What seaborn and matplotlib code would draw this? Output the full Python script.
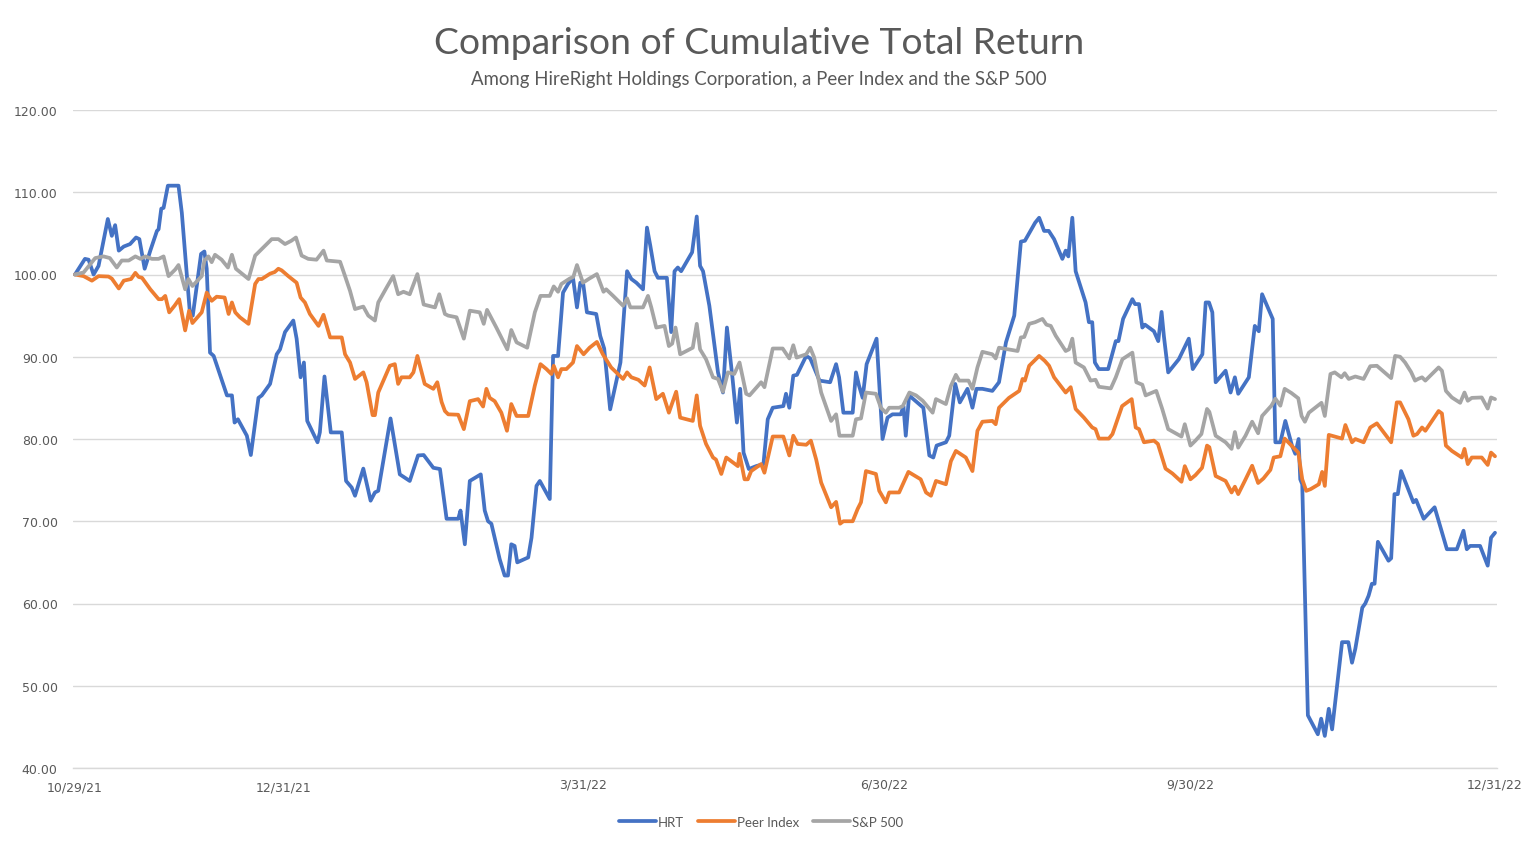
import pandas as pd
import seaborn as sns
import matplotlib.dates as mdates

from matplotlib import pyplot as plt
from matplotlib.ticker import FormatStrFormatter, FixedLocator

start = pd.Timestamp("2021-10-29")

# days after 10/29/21
hrt_days = [0, 3.0, 4.1, 5.6, 7.1, 9.9, 11.1, 12.1, 13.2, 14.7,
            16.6, 18.4, 19.4, 21.0, 22.7, 24.7, 25.2, 26.0, 26.7, 28.0,
            31.2, 32.2, 34.7, 35.5, 38.0, 39.0, 39.7, 40.7, 41.8, 45.8,
            47.3, 48.1, 49.1, 51.8, 53.0, 55.3, 56.3, 58.8, 60.8, 61.8,
            63.3, 65.8, 66.8, 68.0, 69.0, 70.0, 73.1, 73.8, 75.2, 77.1,
            80.4, 81.7, 83.4, 84.4, 86.9, 89.1, 90.4, 91.4, 95.1, 97.9,
            100.9, 103.4, 105.1, 108.0, 110.0, 112.0, 115.5, 116.2, 117.5, 119.0,
            122.3, 123.5, 124.5, 125.5, 128.0, 129.5, 130.5, 131.5, 132.5, 133.3,
            136.6, 137.6, 139.1, 140.1, 143.1, 144.1, 145.6, 147.1, 148.6, 150.1,
            151.3, 152.3, 153.2, 154.3, 157.1, 158.3, 159.5, 161.3, 164.4, 166.4,
            167.7, 169.2, 171.2, 172.4, 173.4, 174.7, 175.7, 178.4, 179.7, 180.7,
            181.7, 182.7, 186.0, 187.4, 188.4, 189.3, 191.2, 193.8, 195.3, 196.5,
            198.1, 199.5, 200.5, 201.5, 203.1, 205.3, 207.5, 208.8, 210.3, 213.5,
            214.3, 215.3, 216.5, 217.6, 220.4, 221.6, 224.4, 227.6, 229.4, 230.3,
            231.6, 234.4, 235.4, 236.3, 237.4, 238.6, 241.6, 243.4, 244.9, 246.4,
            248.9, 249.7, 250.4, 251.4, 255.7, 257.5, 258.7, 259.7, 262.5, 263.5,
            265.3, 266.7, 269.0, 270.5, 271.7, 273.5, 276.5, 278.5, 280.6, 283.1,
            285.1, 286.3, 289.4, 290.6, 292.1, 293.5, 295.1, 297.6, 298.6, 299.4,
            300.6, 301.6, 304.6, 305.6, 306.6, 307.4, 308.6, 311.4, 313.7, 314.5,
            315.9, 318.7, 319.5, 320.7, 321.7, 322.5, 325.2, 326.5, 327.5, 328.2,
            329.5, 332.7, 335.7, 336.9, 339.8, 340.8, 341.8, 342.8, 343.8, 346.8,
            348.3, 349.6, 350.6, 353.8, 355.6, 356.8, 357.8, 361.0, 361.8, 363.3,
            364.8, 366.8, 367.8, 368.8, 369.3, 369.9, 371.6, 374.6, 375.6, 376.7,
            377.9, 378.9, 381.9, 383.8, 384.9, 385.9, 388.0, 388.9, 389.9, 390.9,
            391.7, 392.7, 395.9, 396.7, 397.7, 398.7, 399.7, 403.4, 404.2, 406.5,
            409.8, 413.5, 416.5, 418.5, 419.5, 420.5, 423.5, 425.8, 426.8, 428.0]
hrt_values = [100, 101.9, 101.8, 100.0, 101.05, 106.75, 104.7, 106.0, 102.9, 103.4,
              103.7, 104.5, 104.3, 100.7, 102.9, 105.3, 105.5, 108.0, 108.1, 110.8,
              110.8, 107.5, 95.0, 95.0, 102.5, 102.8, 100.7, 90.5, 90.1, 85.3,
              85.3, 82.0, 82.4, 80.4, 78.05, 85.0, 85.3, 86.7, 90.3, 90.9,
              93.0, 94.4, 92.2, 87.5, 89.3, 82.2, 79.6, 80.8, 87.6, 80.8,
              80.8, 74.9, 74.1, 73.1, 76.4, 72.5, 73.5, 73.7, 82.5, 75.7,
              74.9, 78.0, 78.05, 76.5, 76.35, 70.3, 70.3, 71.3, 67.2, 74.9,
              75.7, 71.3, 70.0, 69.7, 65.4, 63.4, 63.4, 67.2, 67.0, 65.0,
              65.6, 68.0, 74.3, 74.9, 72.7, 90.1, 90.1, 97.8, 98.85, 99.6,
              96.0, 99.0, 98.8, 95.4, 95.2, 92.55, 91.0, 83.6, 89.3, 100.4,
              99.45, 99.0, 98.2, 105.7, 103.5, 100.4, 99.6, 99.6, 93.0, 100.4,
              100.85, 100.4, 102.7, 107.05, 101.05, 100.4, 96.2, 88.1, 85.65, 93.55,
              87.7, 82.0, 86.1, 78.35, 76.35, 76.7, 76.95, 82.4, 83.8, 84.0,
              85.5, 83.8, 87.7, 87.8, 90.1, 89.8, 87.1, 86.9, 89.1, 87.5,
              83.2, 83.2, 88.1, 86.5, 85.0, 89.1, 92.2, 80.0, 82.6, 83.0,
              83.0, 84.0, 80.4, 85.3, 83.8, 78.0, 77.75, 79.2, 79.6, 80.4,
              86.7, 84.45, 86.1, 83.8, 86.1, 86.1, 85.85, 86.9, 91.75, 95.0,
              104.0, 104.1, 106.3, 106.9, 105.3, 105.3, 104.3, 101.9, 102.9, 102.2,
              106.9, 100.4, 96.6, 94.2, 94.2, 89.3, 88.5, 88.5, 91.9, 91.9,
              94.6, 97.0, 96.4, 96.4, 93.55, 93.9, 93.1, 91.9, 95.45, 92.5,
              88.1, 89.7, 92.2, 88.5, 90.3, 96.6, 96.6, 95.4, 86.9, 88.3,
              85.65, 87.5, 85.5, 87.5, 93.75, 93.1, 97.6, 94.6, 79.6, 79.6,
              82.2, 79.2, 78.2, 80.0, 75.1, 74.5, 46.4, 44.1, 46.0, 43.9,
              47.2, 44.7, 55.3, 55.3, 52.8, 54.5, 59.5, 60.0, 60.95, 62.4,
              62.4, 67.5, 65.2, 65.5, 73.3, 73.3, 76.1, 72.3, 72.6, 70.3,
              71.7, 66.6, 66.6, 68.85, 66.6, 67.0, 67.0, 64.6, 68.0, 68.6]

peer_days = [0, 2.6, 5.1, 7.1, 10.1, 11.1, 13.2, 14.7, 16.9, 18.2,
             19.2, 20.2, 22.7, 25.2, 26.2, 27.2, 28.4, 30.0, 31.4, 33.2,
             34.4, 35.4, 38.2, 39.7, 41.2, 42.7, 45.1, 46.3, 47.3, 48.3,
             49.7, 52.3, 54.3, 55.3, 56.3, 58.8, 60.2, 61.3, 62.3, 64.3,
             66.8, 68.0, 69.3, 70.8, 73.4, 74.9, 76.9, 80.4, 81.4, 82.9,
             84.4, 86.9, 87.9, 89.7, 90.4, 91.4, 94.9, 96.4, 97.4, 98.4,
             100.9, 102.0, 103.2, 105.4, 108.0, 109.2, 110.5, 111.5, 112.5, 115.5,
             117.2, 119.0, 121.5, 123.0, 124.0, 125.0, 126.5, 128.5, 130.2, 131.5,
             133.1, 136.6, 138.6, 140.3, 142.1, 143.6, 144.3, 145.6, 146.6, 148.1,
             150.1, 151.3, 153.3, 155.1, 157.3, 159.1, 161.6, 165.2, 166.4, 167.7,
             169.8, 171.7, 173.2, 175.2, 177.2, 179.0, 181.2, 182.4, 186.2, 187.4,
             188.4, 190.2, 192.3, 193.2, 194.8, 196.3, 199.8, 200.3, 201.8, 202.8,
             203.8, 206.8, 207.8, 210.3, 213.5, 215.3, 216.5, 217.8, 220.4, 221.8,
             223.4, 224.9, 227.9, 229.4, 230.6, 231.6, 234.4, 235.9, 236.9, 238.4,
             241.4, 242.4, 244.4, 245.4, 248.4, 251.2, 254.9, 256.5, 258.0, 259.5,
             262.5, 264.0, 265.5, 268.5, 270.5, 272.0, 273.5, 276.5, 277.5, 278.5,
             281.5, 284.6, 285.6, 286.3, 287.6, 288.1, 290.6, 292.3, 293.6, 295.1,
             298.6, 300.1, 301.6, 304.1, 306.6, 307.6, 308.6, 311.6, 312.7, 315.6,
             318.5, 319.7, 320.7, 322.2, 325.2, 326.4, 328.7, 330.8, 333.5, 334.5,
             336.2, 337.7, 339.7, 341.2, 341.9, 343.8, 346.8, 348.6, 349.6, 350.6,
             352.7, 354.8, 356.6, 358.2, 360.3, 361.3, 363.3, 364.6, 365.7, 368.7,
             369.9, 371.1, 372.4, 374.9, 375.9, 376.7, 377.9, 381.9, 382.9, 384.9,
             385.9, 388.4, 390.4, 392.4, 396.7, 398.4, 399.4, 401.9, 403.4, 404.5,
             406.0, 407.0, 411.0, 412.0, 413.2, 415.0, 418.0, 418.8, 419.8, 421.0,
             424.0, 425.8, 426.8, 428.0]
peer_values = [100, 99.8, 99.25, 99.8, 99.75, 99.5, 98.3, 99.25, 99.45, 100.2,
               99.7, 99.6, 98.2, 97.0, 97.0, 97.4, 95.4, 96.2, 97.0, 93.2,
               95.6, 94.1, 95.4, 97.8, 96.8, 97.3, 97.2, 95.2, 96.6, 95.4,
               94.8, 94.0, 98.85, 99.45, 99.45, 100.1, 100.3, 100.7, 100.5, 99.8,
               99.0, 97.2, 96.6, 95.2, 93.75, 95.1, 92.35, 92.35, 90.3, 89.3,
               87.3, 88.1, 86.9, 82.9, 82.9, 85.65, 88.9, 89.1, 86.7, 87.5,
               87.5, 88.1, 90.1, 86.7, 86.1, 86.9, 84.5, 83.4, 83.0, 82.95,
               81.2, 84.6, 84.85, 83.95, 86.1, 85.0, 84.6, 83.2, 81.0, 84.25,
               82.8, 82.8, 86.5, 89.1, 88.5, 87.9, 88.9, 87.5, 88.5, 88.5,
               89.3, 91.3, 90.3, 91.1, 91.8, 90.3, 88.7, 87.3, 88.1, 87.5,
               87.2, 86.5, 88.7, 84.85, 85.5, 83.2, 85.75, 82.6, 82.2, 85.3,
               81.6, 79.4, 77.75, 77.5, 75.75, 77.75, 76.7, 78.2, 75.1, 75.1,
               76.1, 76.95, 75.9, 80.3, 80.3, 78.0, 80.4, 79.4, 79.3, 79.8,
               77.5, 74.7, 71.7, 72.35, 69.7, 70.0, 70.0, 71.5, 72.3, 76.1,
               75.75, 73.7, 72.3, 73.5, 73.5, 76.0, 75.1, 73.5, 73.1, 74.9,
               74.5, 77.3, 78.55, 77.75, 76.1, 81.0, 82.1, 82.2, 81.8, 83.8,
               85.0, 85.85, 87.3, 87.1, 88.9, 89.1, 90.1, 89.5, 88.9, 87.5,
               85.65, 86.3, 83.65, 82.6, 81.4, 81.2, 80.05, 80.05, 80.6, 84.0,
               84.85, 81.4, 81.2, 79.6, 79.8, 79.4, 76.4, 75.8, 74.8, 76.7,
               75.1, 75.6, 76.5, 79.2, 79.0, 75.5, 74.9, 73.5, 74.2, 73.3,
               75.0, 76.75, 74.65, 75.2, 76.25, 77.75, 77.9, 80.05, 79.6, 78.35,
               75.1, 73.7, 73.9, 74.5, 76.0, 74.3, 80.5, 80.05, 81.7, 79.6,
               80.0, 79.6, 81.4, 81.9, 79.6, 84.45, 84.45, 82.4, 80.4, 80.6,
               81.4, 81.0, 83.4, 83.1, 79.2, 78.55, 77.75, 78.8, 76.95, 77.75,
               77.75, 76.85, 78.35, 77.9]

sp_days = [0, 2.6, 4.1, 6.1, 8.6, 10.5, 12.6, 14.1, 16.2, 18.2,
           19.7, 21.2, 23.2, 25.2, 26.7, 28.2, 30.2, 31.2, 33.2, 34.2,
           35.4, 38.2, 39.0, 40.2, 41.2, 42.2, 44.2, 46.1, 47.3, 48.5,
           50.3, 52.3, 54.3, 55.8, 57.3, 59.3, 61.3, 63.3, 65.2, 66.6,
           68.3, 70.3, 72.8, 74.9, 75.9, 79.9, 81.4, 82.9, 84.4, 86.9,
           88.4, 90.4, 91.4, 93.9, 95.9, 97.4, 99.0, 100.9, 103.2, 105.1,
           108.5, 109.8, 111.5, 112.5, 115.0, 117.2, 119.0, 122.0, 123.2, 124.2,
           127.0, 130.3, 131.5, 133.1, 136.3, 138.6, 140.3, 143.1, 144.3, 145.6,
           146.6, 149.1, 150.2, 151.3, 153.1, 155.0, 157.3, 159.3, 160.1, 162.2,
           165.2, 166.4, 167.4, 171.2, 172.7, 173.7, 175.2, 177.7, 179.0, 180.0,
           181.0, 182.4, 186.2, 187.4, 188.4, 190.2, 192.3, 193.8, 195.3, 196.8,
           198.7, 200.3, 202.3, 203.3, 206.8, 207.8, 210.3, 213.3, 215.3, 216.5,
           217.5, 220.4, 221.6, 222.8, 224.9, 227.9, 229.4, 230.4, 234.4, 235.4,
           236.9, 238.4, 241.4, 242.9, 244.4, 245.4, 248.4, 249.5, 251.5, 253.5,
           255.5, 258.5, 259.5, 262.5, 264.0, 265.5, 266.5, 269.3, 270.5, 272.0,
           273.5, 276.5, 277.5, 278.5, 284.1, 285.1, 286.1, 287.6, 289.4, 291.6,
           292.8, 294.1, 295.6, 298.6, 299.6, 300.6, 301.6, 304.1, 306.1, 307.6,
           308.6, 312.2, 313.7, 315.7, 318.7, 319.9, 321.7, 322.7, 325.9, 327.7,
           329.5, 333.5, 334.5, 336.2, 337.7, 339.5, 341.2, 341.9, 343.8, 346.8,
           348.6, 349.6, 350.6, 352.8, 354.8, 356.6, 357.8, 360.6, 361.8, 363.3,
           364.6, 366.6, 368.7, 369.7, 370.7, 371.9, 375.7, 376.7, 378.4, 379.7,
           381.7, 382.7, 383.9, 385.9, 388.4, 390.4, 392.4, 396.7, 397.9, 399.4,
           400.9, 402.7, 403.9, 404.8, 406.0, 407.0, 411.0, 412.0, 413.2, 415.0,
           417.5, 418.8, 419.8, 421.0, 424.0, 425.8, 426.8, 428.0]
sp_values = [100, 100.25, 101.0, 102.0, 102.2, 102.0, 100.85, 101.7, 101.7, 102.2,
             101.9, 102.2, 101.9, 101.9, 102.2, 99.8, 100.6, 101.15, 98.2, 99.45,
             98.6, 99.8, 101.7, 102.2, 101.5, 102.4, 101.8, 100.85, 102.4, 100.7,
             100.1, 99.45, 102.3, 102.9, 103.5, 104.3, 104.3, 103.7, 104.1, 104.5,
             102.3, 101.9, 101.8, 102.9, 101.7, 101.55, 99.8, 98.0, 95.8, 96.1,
             95.0, 94.4, 96.6, 98.4, 99.8, 97.6, 97.9, 97.6, 100.05, 96.35,
             96.0, 97.6, 95.2, 95.0, 94.8, 92.2, 95.6, 95.4, 94.0, 95.7,
             93.55, 90.9, 93.25, 91.75, 91.1, 95.4, 97.4, 97.4, 98.55, 97.9,
             98.85, 99.5, 99.7, 101.15, 99.0, 99.5, 100.05, 97.9, 98.2, 97.4,
             96.2, 97.1, 96.0, 96.0, 97.4, 96.0, 93.55, 93.75, 91.3, 91.6,
             93.55, 90.3, 91.1, 94.0, 90.9, 89.7, 87.5, 87.3, 85.75, 88.1,
             87.9, 89.3, 85.5, 85.3, 86.9, 86.3, 91.0, 91.0, 89.8, 91.4,
             89.9, 90.3, 91.1, 89.9, 85.65, 82.2, 83.0, 80.4, 80.4, 82.4,
             82.5, 85.65, 85.5, 83.8, 83.2, 83.8, 83.8, 84.0, 85.65, 85.3,
             84.65, 83.2, 84.85, 84.25, 86.45, 87.8, 87.1, 87.1, 86.1, 88.7,
             90.6, 90.3, 89.8, 91.1, 90.7, 92.35, 92.4, 94.0, 94.2, 94.6,
             93.9, 93.75, 92.55, 90.7, 90.9, 92.2, 89.3, 88.7, 87.1, 87.2,
             86.35, 86.15, 87.5, 89.7, 90.5, 86.9, 86.6, 85.3, 85.85, 83.65,
             81.2, 80.3, 81.8, 79.2, 79.8, 80.6, 83.65, 83.3, 80.4, 79.6,
             78.8, 80.85, 78.95, 80.4, 82.1, 80.7, 82.8, 84.05, 84.9, 84.05,
             86.1, 85.6, 84.95, 82.8, 82.1, 83.2, 84.4, 82.8, 87.9, 88.1,
             87.5, 88.0, 87.3, 87.6, 87.3, 88.85, 88.9, 87.4, 90.1, 90.0,
             89.3, 88.15, 87.1, 87.3, 87.5, 87.1, 88.7, 88.3, 85.85, 85.05,
             84.4, 85.65, 84.65, 85.0, 85.05, 83.7, 85.05, 84.85]

tick_dates = ["2021-10-29", "2021-12-31", "2022-03-31", "2022-06-30", "2022-09-30", "2022-12-31"]
y_ticks = [40, 50, 60, 70, 80, 90, 100, 110, 120]

colors = {"HRT": "#4472C4", "Peer Index": "#ED7D31", "S&P 500": "#A5A5A5"}
text_color = "#595959"
grid_color = "#D9D9D9"

frames = []
for name, days, values in [("HRT", hrt_days, hrt_values),
                           ("Peer Index", peer_days, peer_values),
                           ("S&P 500", sp_days, sp_values)]:
    frames.append(pd.DataFrame({"series": name,
                                "date": start + pd.to_timedelta(days, unit="D"),
                                "value": values}))
df = pd.concat(frames, ignore_index=True)

sns.set_theme(style="white")
plt.rcParams["font.family"] = ["DejaVu Sans"]

W, H = 1536, 854
fig = plt.figure(figsize=(W / 100, H / 100), dpi=100)
ax = fig.add_axes([73 / W, 1 - 769 / H, (1497 - 73) / W, (769 - 111) / H])

sns.lineplot(data=df, x="date", y="value", hue="series", palette=colors,
             estimator=None, linewidth=2.7, solid_joinstyle="round",
             solid_capstyle="round", ax=ax)

ax.set_xlim(start - pd.Timedelta(days=0.6), start + pd.Timedelta(days=428.6))
ax.set_ylim(40, 120)
ax.set_yticks(y_ticks)
ax.yaxis.set_major_formatter(FormatStrFormatter("%.2f"))

ax.xaxis.set_major_locator(FixedLocator(mdates.date2num(pd.to_datetime(tick_dates))))
ax.xaxis.set_major_formatter(mdates.DateFormatter("%-m/%d/%y"))

ax.set_xlabel("")
ax.set_ylabel("")
ax.grid(axis="y", color=grid_color, linewidth=1.0)
ax.set_axisbelow(True)
for side in ["left", "right", "top"]:
    ax.spines[side].set_visible(False)
ax.spines["bottom"].set_color(grid_color)
ax.spines["bottom"].set_linewidth(1.0)

ax.tick_params(axis="y", length=0, pad=11, labelsize=9, labelcolor=text_color)
ax.tick_params(axis="x", length=4, width=1, color=grid_color, pad=3,
               labelsize=9, labelcolor=text_color)
for t in ax.xaxis.get_major_ticks()[:2]:
    t.set_pad(5)

fig.text(759 / W, 1 - 44 / H, "Comparison of Cumulative Total Return",
         ha="center", va="center", fontsize=26.8, color=text_color, family="Lato")
fig.text(759 / W, 1 - 79 / H, "Among HireRight Holdings Corporation, a Peer Index and the S&P 500",
         ha="center", va="center", fontsize=13.4, color=text_color, family="Lato")

sns.move_legend(ax, "center", bbox_to_anchor=(761 / W, 1 - 823 / H),
                bbox_transform=fig.transFigure, ncol=3, frameon=False, title=None,
                handlelength=2.8, handletextpad=0.1, columnspacing=1.1,
                prop={"family": "Lato", "size": 9.5})
for txt in ax.get_legend().get_texts():
    txt.set_color(text_color)

fig.savefig("out.png", dpi=100)
